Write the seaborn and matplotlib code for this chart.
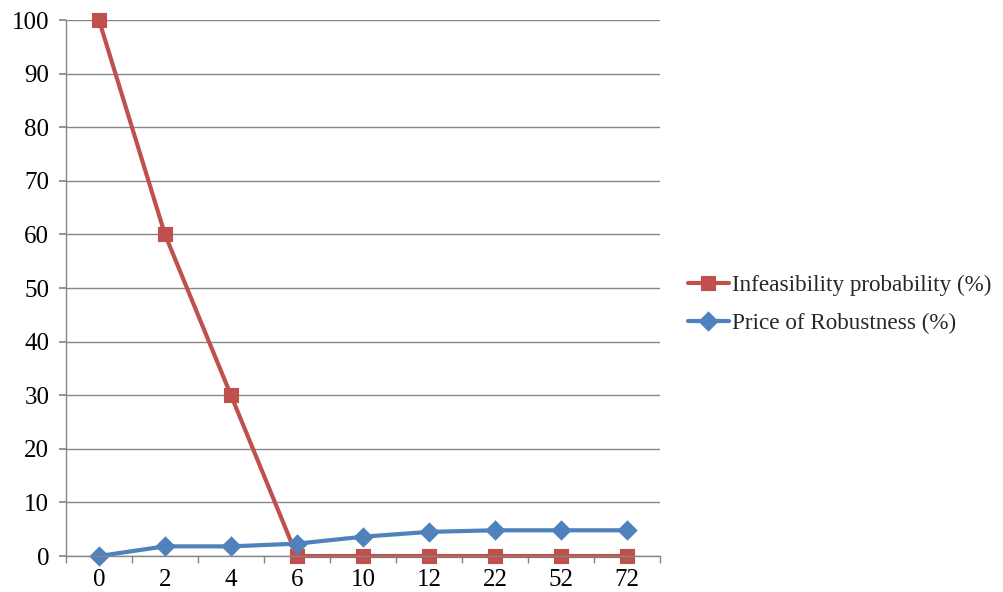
import matplotlib
matplotlib.use("Agg")
import matplotlib.pyplot as plt
import seaborn as sns
import pandas as pd
import numpy as np

# data
categories = ["0", "2", "4", "6", "10", "12", "22", "52", "72"]
infeasibility = [100, 60, 30, 0, 0, 0, 0, 0, 0]
price_robustness = [0, 1.8, 1.8, 2.3, 3.6, 4.5, 4.8, 4.8, 4.8]
y_ticks = list(range(0, 101, 10))

series_names = ["Infeasibility probability (%)", "Price of Robustness (%)"]
df = pd.DataFrame({
    "gamma": categories * 2,
    "value": infeasibility + price_robustness,
    "series": [series_names[0]] * len(categories) + [series_names[1]] * len(categories),
})

sns.set_theme(style="white")
plt.rcParams["font.family"] = ["Liberation Serif", "DejaVu Serif"]

fig = plt.figure(figsize=(10.04, 5.92), dpi=100)
ax = fig.add_axes([0.0657, 0.0608, 0.5916, 0.9054])

palette = {series_names[0]: "#C0504D", series_names[1]: "#4F81BD"}
sns.pointplot(
    data=df, x="gamma", y="value", hue="series", order=categories,
    hue_order=series_names, palette=palette, markers=["s", "D"],
    linestyles=["-", "-"], ax=ax, errorbar=None,
    markersize=8, linewidth=3,
)
for art in ax.lines + ax.collections:
    art.set_clip_on(False)

ax.set_xlim(-0.5, len(categories) - 0.5)
ax.set_ylim(0, 100)
ax.set_yticks(y_ticks)
ax.set_xlabel("")
ax.set_ylabel("")

grid_col = "#868686"
ax.yaxis.grid(True, color=grid_col, linewidth=1)
ax.set_axisbelow(True)
for side in ["top", "right"]:
    ax.spines[side].set_visible(False)
for side in ["left", "bottom"]:
    ax.spines[side].set_color(grid_col)
    ax.spines[side].set_linewidth(1)

ax.set_xticks(np.arange(-0.5, len(categories)), minor=True)
ax.tick_params(axis="x", which="major", length=0, labelsize=18, pad=9, colors="black")
ax.tick_params(axis="x", which="minor", length=5, color=grid_col, direction="out", bottom=True)
ax.tick_params(axis="y", which="major", length=5, color=grid_col, direction="out",
               left=True, labelsize=18, pad=7, labelcolor="black")

leg = ax.legend(loc="center left", bbox_to_anchor=(1.012, 0.47), frameon=False,
                fontsize=16.7, handlelength=1.75, handletextpad=0.15, labelspacing=0.72)

fig.savefig("out.png", dpi=100)
